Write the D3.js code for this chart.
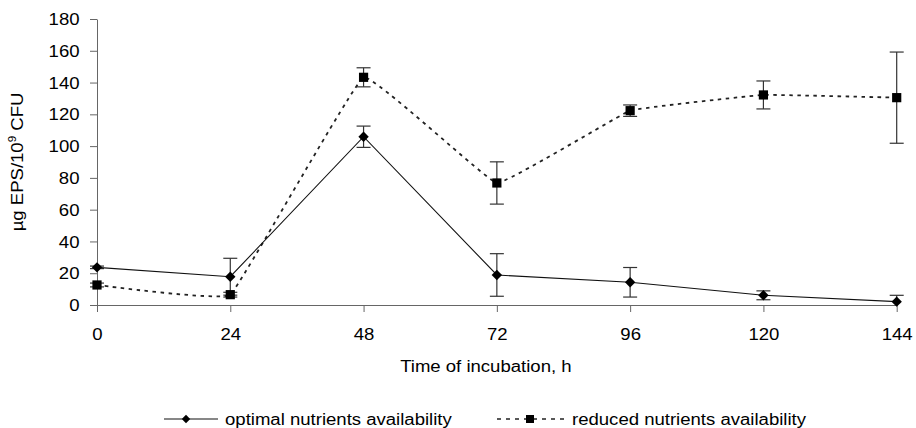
<!DOCTYPE html>
<html>
<head>
<meta charset="utf-8">
<script src="https://cdn.jsdelivr.net/npm/d3@7"></script>
<style>
  html, body { margin: 0; padding: 0; background: #fff; }
  svg { display: block; }
  text { font-family: Arial, "Liberation Sans", sans-serif; fill: #000; }
</style>
</head>
<body>
<svg id="chart" width="916" height="428"></svg>
<script>
// ---- data ----
const hours = [0, 24, 48, 72, 96, 120, 144];
const optimalMean = [23.7, 17.8, 105.9, 18.9, 14.3, 6.1, 2.1];
const optimalErr  = [0.8, 11.6, 6.7, 13.4, 9.3, 2.8, 4.0];
const reducedMean = [12.6, 6.5, 143.3, 76.8, 122.3, 132.2, 130.5];
const reducedErr  = [1.2, 1.5, 6.0, 13.3, 3.6, 8.8, 28.7];
const yTicks = [0, 20, 40, 60, 80, 100, 120, 140, 160, 180];
const xTicks = [0, 24, 48, 72, 96, 120, 144];
const seriesNames = ["optimal nutrients availability", "reduced nutrients availability"];

const SX = 1.16; // horizontal text stretch seen in the reference
const FS = 16;

const svg = d3.select("#chart");
const x = d3.scaleLinear().domain([0, 144]).range([97, 896.7]);
const y = d3.scaleLinear().domain([0, 180]).range([305, 19]);

const axisColor = "#666";

const optimal = hours.map((h, i) => ({ h, v: optimalMean[i], e: optimalErr[i] }));
const reduced = hours.map((h, i) => ({ h, v: reducedMean[i], e: reducedErr[i] }));

// error bars (drawn first, lower part clipped at the axis)
function errorBars(data) {
  const g = svg.append("g").attr("stroke", "#333").attr("stroke-width", 1.2).attr("fill", "none");
  data.forEach(d => {
    const cx = x(d.h), y1 = y(d.v + d.e), low = d.v - d.e, y2 = y(Math.max(0, low));
    g.append("line").attr("x1", cx).attr("x2", cx).attr("y1", y1).attr("y2", y2);
    g.append("line").attr("x1", cx - 7).attr("x2", cx + 7).attr("y1", y1).attr("y2", y1);
    if (low >= 0) g.append("line").attr("x1", cx - 7).attr("x2", cx + 7).attr("y1", y2).attr("y2", y2);
  });
}
errorBars(optimal);
errorBars(reduced);

// y axis
const gy = svg.append("g").attr("transform", `translate(${x(0)},0)`)
  .call(d3.axisLeft(y).tickValues(yTicks).tickSize(7).tickSizeOuter(0).tickFormat(d3.format("d")));
gy.select(".domain").attr("stroke", axisColor);
gy.selectAll(".tick line").attr("stroke", axisColor);
gy.selectAll(".tick text")
  .attr("font-size", FS).attr("font-family", "Arial, 'Liberation Sans', sans-serif")
  .attr("fill", "#000")
  .attr("x", -17.5 / SX).attr("dy", "0.35em")
  .attr("transform", `scale(${SX},1)`);

// x axis
const gx = svg.append("g").attr("transform", `translate(0,${y(0)})`)
  .call(d3.axisBottom(x).tickValues(xTicks).tickSize(7).tickSizeOuter(0).tickFormat(d3.format("d")));
gx.select(".domain").attr("stroke", axisColor);
gx.selectAll(".tick line").attr("stroke", axisColor);
gx.selectAll(".tick text")
  .attr("font-size", FS).attr("font-family", "Arial, 'Liberation Sans', sans-serif")
  .attr("fill", "#000")
  .attr("y", 35).attr("dy", 0)
  .attr("transform", `scale(${SX},1)`);

function addText(tx, ty, str, anchor, rot) {
  const t = svg.append("text")
    .attr("transform", `translate(${tx},${ty})` + (rot ? ` rotate(${rot})` : "") + ` scale(${SX},1)`)
    .attr("text-anchor", anchor || "start")
    .attr("font-size", FS);
  t.text(str);
  return t;
}

// axis titles
addText(x(72) - 11, 372, "Time of incubation, h", "middle");
const yt = svg.append("text")
  .attr("transform", `translate(23,${(y(0) + y(180)) / 2}) rotate(-90) scale(${SX},1)`)
  .attr("text-anchor", "middle")
  .attr("font-size", FS);
yt.append("tspan").text("µg EPS/10");
yt.append("tspan").attr("font-size", 10).attr("dy", -7).text("9");
yt.append("tspan").attr("dy", 7).text(" CFU");

// lines
const lineSolid = d3.line().x(d => x(d.h)).y(d => y(d.v));
const lineSmooth = d3.line().x(d => x(d.h)).y(d => y(d.v)).curve(d3.curveCardinal.tension(0.8));

svg.append("path").datum(reduced)
  .attr("d", lineSmooth).attr("fill", "none")
  .attr("stroke", "#222").attr("stroke-width", 1.8).attr("stroke-dasharray", "3.5,4.5");
svg.append("path").datum(optimal)
  .attr("d", lineSolid).attr("fill", "none")
  .attr("stroke", "#111").attr("stroke-width", 1.1);

// markers
const diamond = (cx, cy, r) => `M${cx},${cy - r}L${cx + r},${cy}L${cx},${cy + r}L${cx - r},${cy}Z`;
svg.append("g").selectAll("path").data(optimal).join("path")
  .attr("d", d => diamond(x(d.h), y(d.v), 5.2)).attr("fill", "#000");
svg.append("g").selectAll("rect").data(reduced).join("rect")
  .attr("x", d => x(d.h) - 4.6).attr("y", d => y(d.v) - 4.6)
  .attr("width", 9.2).attr("height", 9.2).attr("fill", "#000");

// legend
const ly = 419;
svg.append("line").attr("x1", 164).attr("x2", 218).attr("y1", ly).attr("y2", ly)
  .attr("stroke", "#111").attr("stroke-width", 1.1);
svg.append("path").attr("d", diamond(186, ly, 4.2)).attr("fill", "#000");
addText(225, ly + 5.5, seriesNames[0], "start");

svg.append("line").attr("x1", 497).attr("x2", 564).attr("y1", ly).attr("y2", ly)
  .attr("stroke", "#222").attr("stroke-width", 1.6).attr("stroke-dasharray", "4,5");
svg.append("rect").attr("x", 530 - 4).attr("y", ly - 4).attr("width", 8).attr("height", 8).attr("fill", "#000");
addText(572, ly + 5.5, seriesNames[1], "start");
</script>
</body>
</html>
